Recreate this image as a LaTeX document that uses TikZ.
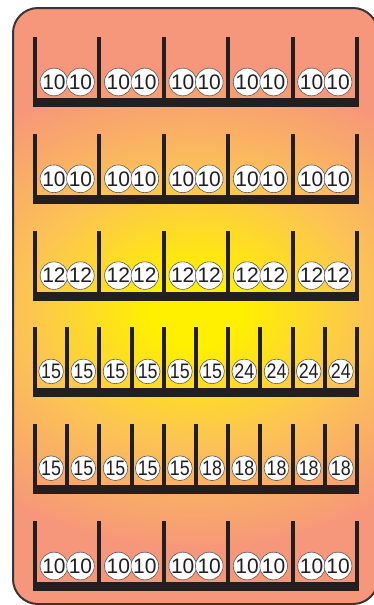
\documentclass[tikz,border=0pt]{standalone}
\usepackage{fontspec}
\setmainfont{Liberation Sans}
\newfontfamily\narrowfont[FakeStretch=0.85]{Liberation Sans}
\definecolor{ink}{HTML}{231F20}
\definecolor{salmon}{RGB}{246,150,122}
\definecolor{glowy}{RGB}{255,240,0}
\definecolor{glowo}{RGB}{252,195,85}
\pgfdeclareradialshading{glow}{\pgfpoint{0bp}{0bp}}{color(0bp)=(glowy); color(2bp)=(glowy); color(7.6bp)=(glowo); color(13.7bp)=(salmon); color(50bp)=(salmon)}
\tikzset{
  coin/.style={circle, fill=white, draw=ink!75, line width=0.6pt, inner sep=0pt,
    minimum size=26.5pt, text=ink, font=\fontsize{21}{21}\selectfont},
  smallcoin/.style={circle, fill=white, draw=ink!75, line width=0.6pt, inner sep=0pt,
    minimum size=24pt, text=ink, font=\narrowfont\fontsize{21}{21}\selectfont},
}
\begin{document}
\begin{tikzpicture}[x=1pt,y=-1pt]
\useasboundingbox (0,0) rectangle (373,605);
% frame with glow
\begin{scope}
  \clip[rounded corners=25pt] (13,8) rectangle (378,604);
  \fill[salmon] (0,0) rectangle (400,610);
  \shade[shading=glow] (195,310) ellipse (572pt and 440pt);
\end{scope}
\draw[ink!90, line width=2pt, rounded corners=25pt] (13,8) rectangle (378,604);
% five-bay rows
\foreach \r/\lab in {0/10,1/10,2/12,5/10} {
  \pgfmathsetmacro\yb{98+96.8*\r}
  \fill[ink] (33,\yb) rectangle (359,\yb+9);
  \foreach \k in {0,...,5} \fill[ink] ({33+64.4*\k},\yb-61) rectangle ({37+64.4*\k},\yb+9);
  \foreach \k in {0,...,4} {
    \node[coin] (c\r-\k a) at ({67.2+64.4*\k-13.25},\yb-16) {\lab};
    \node[coin] (c\r-\k b) at ({67.2+64.4*\k+13.25},\yb-16) {\lab};
  }
}
% ten-bay row 4
\pgfmathsetmacro\yb{98+96.8*3}
\fill[ink] (33,\yb) rectangle (359,\yb+9);
\foreach \k in {0,...,10} \fill[ink] ({33+32.2*\k},\yb-61) rectangle ({37+32.2*\k},\yb+9);
\foreach \lab [count=\k from 0] in {15,15,15,15,15,15,24,24,24,24}
  \node[smallcoin] (d3-\k) at ({51.1+32.2*\k},\yb-17) {\lab};
% ten-bay row 5
\pgfmathsetmacro\yb{98+96.8*4}
\fill[ink] (33,\yb) rectangle (359,\yb+9);
\foreach \k in {0,...,10} \fill[ink] ({33+32.2*\k},\yb-61) rectangle ({37+32.2*\k},\yb+9);
\foreach \lab [count=\k from 0] in {15,15,15,15,15,18,18,18,18,18}
  \node[smallcoin] (d4-\k) at ({51.1+32.2*\k},\yb-17) {\lab};
\end{tikzpicture}
\end{document}
